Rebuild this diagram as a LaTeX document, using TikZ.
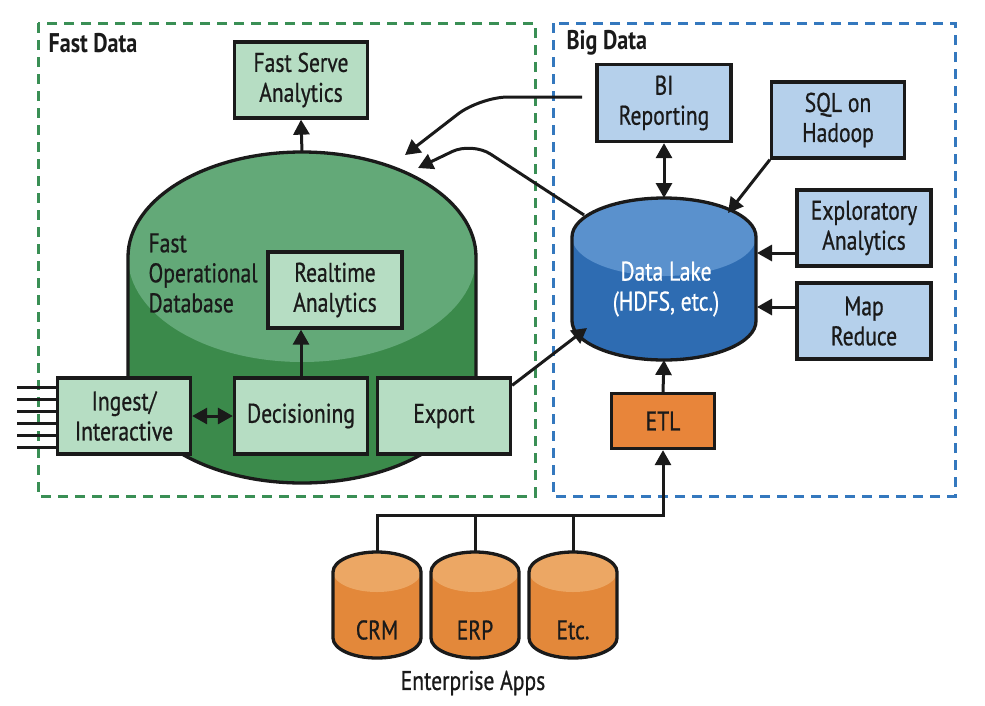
\documentclass[tikz,border=0pt]{standalone}
\usepackage{fontspec}
\setmainfont{PT Sans}[FakeStretch=0.8, FakeBold=0.7]
\newfontfamily\titlefont{PT Sans Bold}[FakeStretch=0.82]
\usetikzlibrary{arrows.meta}
\definecolor{gdash}{HTML}{3A8F55}
\definecolor{bdash}{HTML}{3478BE}
\definecolor{gfill}{HTML}{B6DDC3}
\definecolor{bfill}{HTML}{B5D0EB}
\definecolor{gbody}{HTML}{3B8A4B}
\definecolor{gtop}{HTML}{63A978}
\definecolor{bbody}{HTML}{2E6CB2}
\definecolor{btop}{HTML}{5A91CD}
\definecolor{obody}{HTML}{E3883A}
\definecolor{otop}{HTML}{ECA764}
\definecolor{ofill}{HTML}{E8853A}
\definecolor{ink}{HTML}{1A1A1A}
\newcommand{\dbcyl}[7]{%
  \path[fill=#6] ({#1-#4},#2) -- ({#1-#4},#3)
    arc[start angle=180,end angle=360,x radius=#4pt,y radius=#5pt]
    -- ({#1+#4},#2)
    arc[start angle=0,end angle=180,x radius=#4pt,y radius=#5pt] -- cycle;
  \fill[#7] (#1,#2) ellipse[x radius=#4pt,y radius=#5pt];
  \draw[line width=3.3pt, draw=ink] ({#1-#4},#2) -- ({#1-#4},#3)
    arc[start angle=180,end angle=360,x radius=#4pt,y radius=#5pt]
    -- ({#1+#4},#2)
    arc[start angle=0,end angle=180,x radius=#4pt,y radius=#5pt] -- cycle;
}
\begin{document}
\begin{tikzpicture}[x=1pt,y=-1pt,
  every node/.style={font=\fontsize{27}{30}\selectfont, text=ink},
  box/.style={draw=ink, line width=3.3pt, align=center, inner sep=0pt,
              minimum width=133pt, minimum height=76pt},
  gbox/.style={box, fill=gfill},
  bbox/.style={box, fill=bfill},
  conn/.style={draw=ink, line width=3pt},
  arr/.style={conn, -{Triangle[length=15pt,width=16pt]}},
  darr/.style={conn, {Triangle[length=15pt,width=16pt]}-{Triangle[length=15pt,width=16pt]}},
  region/.style={line width=3pt, dash pattern=on 10pt off 7pt},
  title/.style={font=\titlefont\fontsize{27}{30}\selectfont, anchor=west}
]
\fill[white] (0,0) rectangle (985,705);
\useasboundingbox (0,0) rectangle (985,705);

% regions
\draw[region, draw=gdash] (38,23) rectangle (535,496);
\draw[region, draw=bdash] (553,23) rectangle (955,496);
\node[title] (fdt) at (45,43) {Fast Data};
\node[title] (bdt) at (563,43) {Big Data};

% cylinders
\dbcyl{302}{257}{378}{174}{105}{gbody}{gtop}
\dbcyl{664}{237}{321}{92}{39}{bbody}{btop}
\dbcyl{377}{572}{638}{44}{20}{obody}{otop}
\dbcyl{475}{572}{638}{44}{20}{obody}{otop}
\dbcyl{573}{572}{638}{44}{20}{obody}{otop}

% coordinates
\coordinate (fodtop) at (302,152);
\coordinate (dltop) at (664,198);
\coordinate (dlbot) at (664,360);
\coordinate (dlll) at (587,328);
\coordinate (dlul) at (584,215);
\coordinate (dlur) at (728,213);
\coordinate (dlE1) at (757,253);
\coordinate (dlE2) at (757,307);
\coordinate (fodin1) at (405,155);
\coordinate (fodin2) at (418,168);
\coordinate (bistart) at (582,97);
\coordinate (bus) at (663,515);
\coordinate (crmtop) at (377,552);
\coordinate (erptop) at (475,552);
\coordinate (etctop) at (573,552);

% texts
\node[anchor=west, align=left] (fod) at (145,273) {Fast\\Operational\\Database};
\node[text=white, align=center] (dll) at (666,289) {Data Lake\\(HDFS, etc.)};
\node (crm) at (377,630) {CRM};
\node (erp) at (475,630) {ERP};
\node (etc) at (573,630) {Etc.};
\node (ea) at (473,683) {Enterprise Apps};

% boxes
\node[gbox] (fs) at (301,80) {Fast Serve\\Analytics};
\node[gbox, minimum width=134pt] (rt) at (335,290) {Realtime\\Analytics};
\node[gbox, minimum height=76pt] (ing) at (124,416) {Ingest/\\Interactive};
\node[gbox, minimum height=76pt] (dec) at (301,416) {Decisioning};
\node[gbox, minimum height=76pt] (exp) at (444,416) {Export};
\node[bbox, minimum width=134pt, minimum height=77pt] (bi) at (664,103) {BI\\Reporting};
\node[bbox] (sql) at (838,120) {SQL on\\Hadoop};
\node[bbox, minimum width=134pt] (ex) at (864,228) {Exploratory\\Analytics};
\node[bbox, minimum width=134pt] (mr) at (864,321) {Map\\Reduce};
\node[box, fill=ofill, minimum width=103pt, minimum height=55pt] (etl) at (663,421) {ETL};

% input lines
\foreach \i/\yy in {1/387,2/399,3/411,4/423,5/435,6/447} {
  \coordinate (in\i) at (17,\yy);
  \draw[conn] (in\i) -- (in\i -| ing.west);
}

% connectors
\draw[arr] (fodtop) -- (fs.south);
\draw[arr] (dec.north) -- (dec.north |- rt.south);
\draw[darr] (ing.east) -- (dec.west);
\draw[arr] ([yshift=-9pt]exp.north east) -- (dlll);
\draw[arr, rounded corners=28pt] (bistart) -- (480,97) -- (fodin1);
\draw[arr, rounded corners=22pt] (dlul) -- (472,142) -- (fodin2);
\draw[darr] (bi.south) -- (dltop);
\draw[arr] (sql.south west) -- (dlur);
\draw[arr] (dlE1 -| ex.west) -- (dlE1);
\draw[arr] (dlE2 -| mr.west) -- (dlE2);
\draw[arr] (etl.north) -- (dlbot);
\draw[arr] (crmtop) |- (bus) -- (etl.south);
\draw[conn] (erptop) -- (erptop |- bus);
\draw[conn] (etctop) -- (etctop |- bus);
\end{tikzpicture}
\end{document}
